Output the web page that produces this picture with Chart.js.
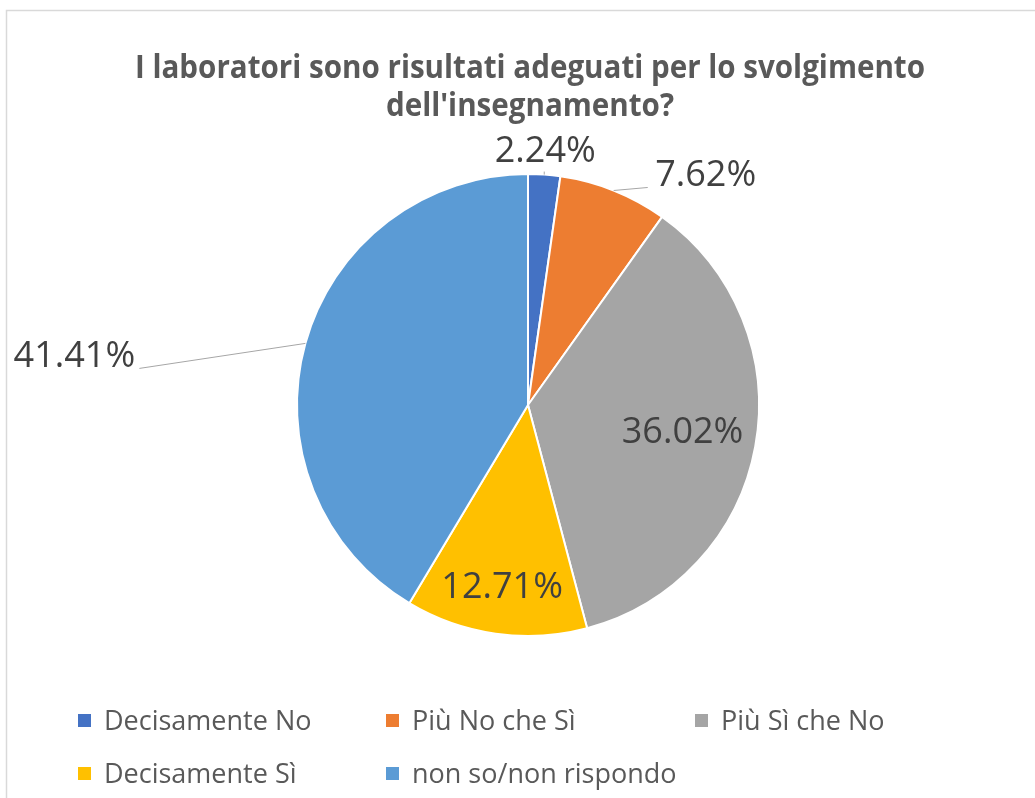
<!DOCTYPE html>
<html>
<head>
<meta charset="utf-8">
<script src="https://cdn.jsdelivr.net/npm/chart.js@4.4.1/dist/chart.umd.min.js"></script>
<style>
  body { margin: 0; background: #fff; }
  #wrap { width: 1035px; height: 798px; position: relative; }
</style>
</head>
<body>
<div id="wrap"><canvas id="myChart"></canvas></div>
<script>
// data
const titleLines = ["I laboratori sono risultati adeguati per lo svolgimento", "dell'insegnamento?"];
const categories = ["Decisamente No", "Più No che Sì", "Più Sì che No", "Decisamente Sì", "non so/non rispondo"];
const percentages = [2.24, 7.62, 36.02, 12.71, 41.41];
const sliceColors = ["#4472C4", "#ED7D31", "#A5A5A5", "#FFC000", "#5B9BD5"];

// label placement: inside labels sit at a fraction of the radius,
// outside ones get a leader line from the slice edge
const labelPlace = [
  { out: true, line: [0, -3], text: [1, -23] },
  { out: true, line: [34, -3], text: [92, -15] },
  { out: false, f: 0.68 },
  { out: false, f: 0.8 },
  { out: true, line: [-166, 25], text: [-231, 13] }
];

const narrowFont = '"Liberation Sans Narrow", "Open Sans", sans-serif';

let fitText = (ctx, text, x, y, sx) => {
  ctx.save();
  ctx.translate(x, y);
  ctx.scale(sx, 1);
  ctx.fillText(text, 0, 0);
  ctx.restore();
};

const decorations = {
  id: "decorations",
  afterDraw(chart) {
    const ctx = chart.ctx;
    ctx.save();

    // frame
    ctx.strokeStyle = "#d9d9d9";
    ctx.lineWidth = 1.5;
    ctx.beginPath();
    ctx.moveTo(6.5, 1000);
    ctx.lineTo(6.5, 10.5);
    ctx.lineTo(1100, 10.5);
    ctx.stroke();

    // title
    ctx.fillStyle = "#595959";
    ctx.font = "bold 32px " + narrowFont;
    ctx.textBaseline = "alphabetic";
    ctx.textAlign = "center";
    const w1 = ctx.measureText(titleLines[0]).width;
    const sx = 790 / w1;
    fitText(ctx, titleLines[0], 530, 78, sx);
    fitText(ctx, titleLines[1], 530, 116, sx);

    // data labels
    const meta = chart.getDatasetMeta(0);
    ctx.font = "36px 'Open Sans', sans-serif";
    ctx.textBaseline = "middle";
    meta.data.forEach((arc, i) => {
      const p = arc.getProps(["x", "y", "startAngle", "endAngle", "outerRadius"], true);
      const mid = (p.startAngle + p.endAngle) / 2;
      const place = labelPlace[i];
      const txt = percentages[i].toFixed(2) + "%";
      let tx, ty;
      if (place.out) {
        const ex = p.x + Math.cos(mid) * p.outerRadius;
        const ey = p.y + Math.sin(mid) * p.outerRadius;
        ctx.strokeStyle = "#a6a6a6";
        ctx.lineWidth = 1;
        ctx.beginPath();
        ctx.moveTo(ex, ey);
        ctx.lineTo(ex + place.line[0], ey + place.line[1]);
        ctx.stroke();
        tx = ex + place.text[0];
        ty = ey + place.text[1];
      } else {
        tx = p.x + Math.cos(mid) * p.outerRadius * place.f;
        ty = p.y + Math.sin(mid) * p.outerRadius * place.f;
      }
      ctx.fillStyle = "#404040";
      ctx.fillText(txt, tx, ty);
    });

    // legend
    ctx.font = "27px 'Open Sans', sans-serif";
    ctx.textAlign = "left";
    ctx.textBaseline = "alphabetic";
    const cols = [78, 386, 695];
    const rows = [730, 783];
    categories.forEach((name, i) => {
      const x = cols[i % 3];
      const y = rows[Math.floor(i / 3)];
      ctx.fillStyle = sliceColors[i];
      ctx.fillRect(x, y - 16, 13, 13);
      ctx.fillStyle = "#595959";
      ctx.fillText(name, x + 26, y);
    });

    ctx.restore();
  }
};

let ctx = document.getElementById("myChart").getContext("2d");
let chart = new Chart(ctx, {
  type: "pie",
  data: {
    labels: categories,
    datasets: [
      {
        data: percentages,
        backgroundColor: sliceColors,
        borderColor: "#ffffff",
        borderWidth: 2
      }
    ]
  },
  options: {
    responsive: true,
    maintainAspectRatio: false,
    animation: false,
    layout: { padding: { left: 296, right: 275, top: 173, bottom: 161 } },
    plugins: {
      legend: { display: false },
      title: { display: false },
      tooltip: { enabled: false }
    }
  },
  plugins: [decorations]
});
</script>
</body>
</html>
